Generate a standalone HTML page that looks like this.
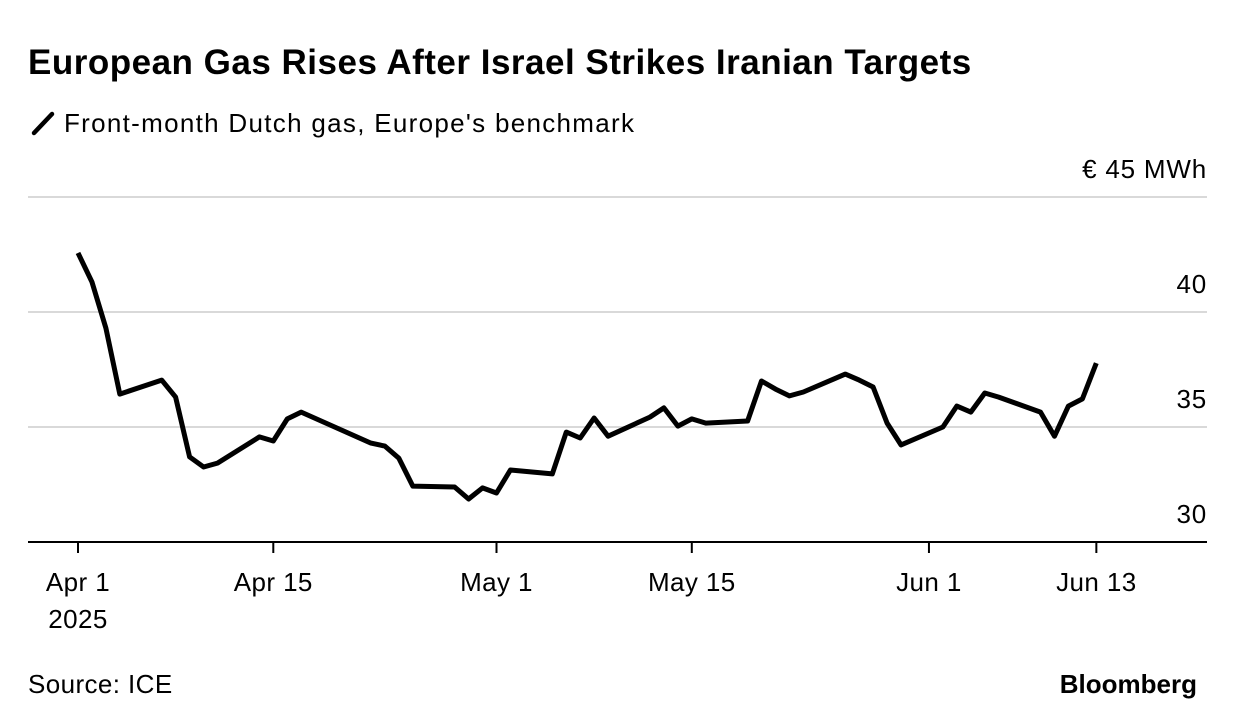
<!DOCTYPE html>
<html><head><meta charset="utf-8"><style>
body{margin:0;background:#fff;width:1236px;height:726px;overflow:hidden;font-family:"Liberation Sans",Arial,sans-serif;}
</style></head><body>
<svg width="1236" height="726" style="position:absolute;left:0;top:0">
<text x="28" y="74" font-size="35" font-weight="bold" letter-spacing="0.5" fill="#000">European Gas Rises After Israel Strikes Iranian Targets</text>
<line x1="34" y1="133" x2="52" y2="114" stroke="#000" stroke-width="4.5" stroke-linecap="round"/>
<text x="64" y="132" font-size="26" letter-spacing="1.3" fill="#000">Front-month Dutch gas, Europe's benchmark</text>
<g id="grid"></g>
<g id="xaxis"></g>
<path id="line" fill="none" stroke="#000" stroke-width="5" stroke-linejoin="round"/>
<text x="28" y="693" font-size="26" letter-spacing="0.4" fill="#000">Source: ICE</text>
<text x="1197" y="693" font-size="26" font-weight="bold" text-anchor="end" fill="#000">Bloomberg</text>
</svg>
<script>
const days=[0,1,2,3,6,7,8,9,10,13,14,15,16,21,22,23,24,27,28,29,30,31,34,35,36,37,38,41,42,43,44,45,48,49,50,51,52,55,56,57,58,59,62,63,64,65,66,69,70,71,72,73];
const values=[42.57,41.3,39.3,36.43,37.04,36.3,33.7,33.26,33.43,34.57,34.39,35.35,35.65,34.3,34.17,33.65,32.43,32.39,31.87,32.35,32.13,33.13,32.96,34.78,34.52,35.39,34.6,35.43,35.83,35.04,35.35,35.17,35.26,37.0,36.65,36.35,36.52,37.3,37.04,36.74,35.17,34.22,35.0,35.91,35.65,36.48,36.3,35.65,34.6,35.91,36.22,37.78];
const yTicks=[30,35,40,45];
const yTickLabels=["30","35","40","€ 45 MWh"];
const xTickDays=[0,14,30,44,61,73];
const xTickLabels=["Apr 1","Apr 15","May 1","May 15","Jun 1","Jun 13"];
const X=d=>78+d*13.95;
const Y=v=>542-(v-30)*23;
const ns="http://www.w3.org/2000/svg";
const grid=document.getElementById('grid'), xa=document.getElementById('xaxis');
yTicks.forEach((t,i)=>{
  if(t!==30){const l=document.createElementNS(ns,'line');
  l.setAttribute('x1',28);l.setAttribute('x2',1207);l.setAttribute('y1',Y(t));l.setAttribute('y2',Y(t));
  l.setAttribute('stroke','#d9d9d9');l.setAttribute('stroke-width',2);
  
  
  grid.appendChild(l);}
  const tx=document.createElementNS(ns,'text');
  tx.setAttribute('x',1207);tx.setAttribute('y',Y(t)-19);tx.setAttribute('text-anchor','end');
  tx.setAttribute('font-size',26);tx.setAttribute('letter-spacing',0.8);tx.textContent=yTickLabels[i];
  
  
  grid.appendChild(tx);
});
const ax=document.createElementNS(ns,'line');
ax.setAttribute('x1',28);ax.setAttribute('x2',1207);ax.setAttribute('y1',542);ax.setAttribute('y2',542);
ax.setAttribute('stroke','#000');ax.setAttribute('stroke-width',2);


xa.appendChild(ax);
xTickDays.forEach((d,i)=>{
  const l=document.createElementNS(ns,'line');
  l.setAttribute('x1',X(d));l.setAttribute('x2',X(d));l.setAttribute('y1',542);l.setAttribute('y2',553);
  l.setAttribute('stroke','#000');l.setAttribute('stroke-width',2);
  
  
  xa.appendChild(l);
  const tx=document.createElementNS(ns,'text');
  tx.setAttribute('x',X(d));tx.setAttribute('y',591);tx.setAttribute('text-anchor','middle');
  tx.setAttribute('font-size',26);tx.setAttribute('letter-spacing',0.4);tx.textContent=xTickLabels[i];
  
  
  xa.appendChild(tx);
});
const yr=document.createElementNS(ns,'text');
yr.setAttribute('x',X(0));yr.setAttribute('y',628);yr.setAttribute('text-anchor','middle');
yr.setAttribute('font-size',26);yr.setAttribute('letter-spacing',0.4);yr.textContent='2025';


xa.appendChild(yr);
document.getElementById('line').setAttribute('d',days.map((d,i)=>(i?'L':'M')+X(d).toFixed(1)+','+Y(values[i]).toFixed(1)).join(''));
</script>
</body></html>
